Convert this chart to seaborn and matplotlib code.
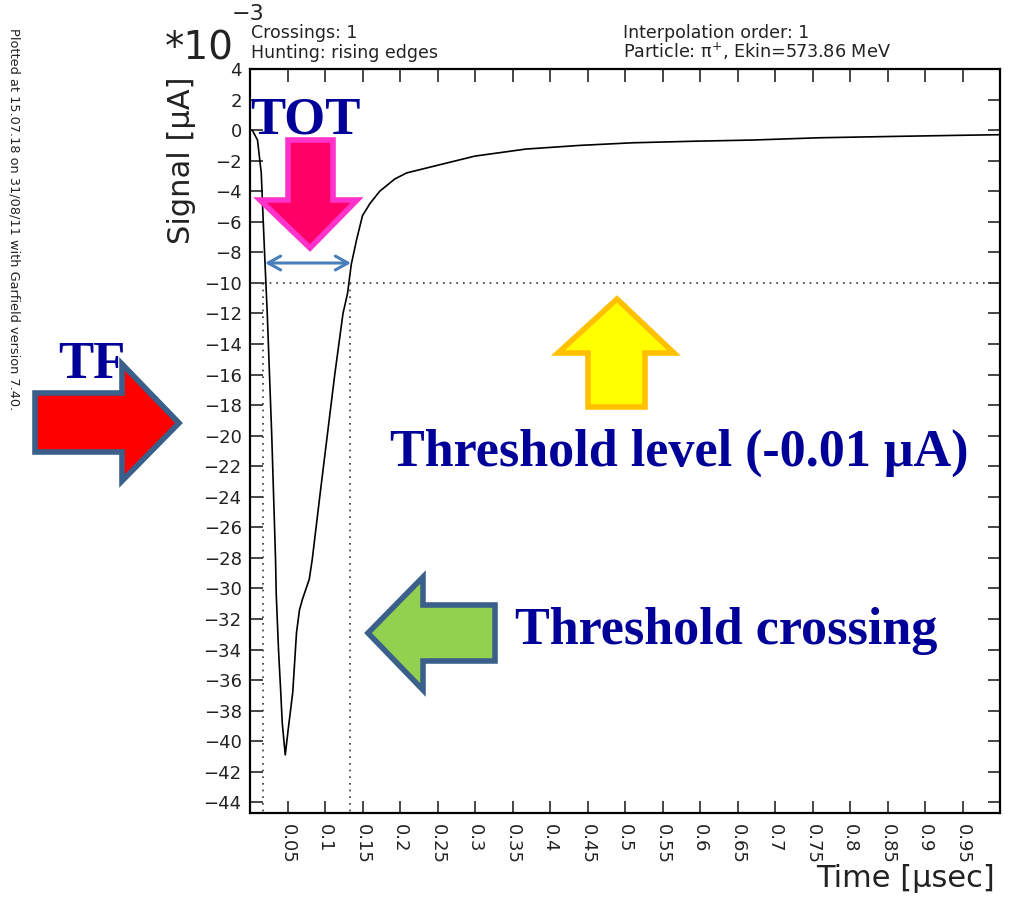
import numpy as np
import pandas as pd
import seaborn as sns
import matplotlib
matplotlib.use("Agg")
import matplotlib.pyplot as plt
from matplotlib.patches import Polygon, FancyArrowPatch

# ---------------- data (signal in units of 1e-3 uA) ----------------
time_us = [0.003, 0.010, 0.015, 0.017, 0.020, 0.023, 0.029, 0.034, 0.035, 0.038,
           0.041, 0.043, 0.047, 0.051, 0.057, 0.062, 0.066, 0.070, 0.079, 0.083,
           0.093, 0.103, 0.113, 0.124, 0.130, 0.135, 0.142, 0.150, 0.160, 0.173,
           0.193, 0.209, 0.261, 0.300, 0.368, 0.440, 0.510, 0.590, 0.670, 0.760,
           0.850, 0.934, 1.000]
signal = [0.0, -0.65, -2.8, -5.2, -8.7, -12.0, -20.0, -28.0, -30.4, -34.0,
          -36.8, -38.8, -40.9, -39.2, -36.8, -32.9, -31.4, -30.7, -29.4, -28.1,
          -24.0, -20.0, -16.0, -12.0, -10.7, -8.8, -7.2, -5.6, -4.8, -4.0,
          -3.2, -2.8, -2.17, -1.7, -1.24, -1.0, -0.83, -0.73, -0.65, -0.5,
          -0.42, -0.35, -0.3]
threshold = -10.0
crossing_times = [0.018, 0.133]

x_ticks = [0.05, 0.1, 0.15, 0.2, 0.25, 0.3, 0.35, 0.4, 0.45, 0.5, 0.55, 0.6,
           0.65, 0.7, 0.75, 0.8, 0.85, 0.9, 0.95]
x_ticklabels = ["0.05", "0.1", "0.15", "0.2", "0.25", "0.3", "0.35", "0.4", "0.45",
                "0.5", "0.55", "0.6", "0.65", "0.7", "0.75", "0.8", "0.85", "0.9", "0.95"]
y_ticks = list(range(-44, 5, 2))

df = pd.DataFrame({"Time": time_us, "Signal": signal})

# ---------------- figure ----------------
sns.set_style("white")
plt.rcParams["font.family"] = ["DejaVu Sans"]
W, H = 1012, 901
fig = plt.figure(figsize=(W / 100, H / 100), dpi=100)
ax = fig.add_axes([250 / W, 1 - 813 / H, 750 / W, 744 / H])

sns.lineplot(data=df, x="Time", y="Signal", ax=ax, color="black", lw=1.2,
             estimator=None, sort=False)

# threshold / crossing dotted lines
ax.plot([crossing_times[0], 1.0], [threshold, threshold], ls=(0, (1, 3)), color="#333333", lw=1.2)
for tc in crossing_times:
    ax.plot([tc, tc], [threshold, -44.7], ls=(0, (1, 3)), color="#333333", lw=1.2)

ax.set_xlim(0, 1.0)
ax.set_ylim(-44.7, 4.0)
ax.set_xticks(x_ticks)
ax.set_xticklabels(x_ticklabels, rotation=-90, fontsize=13, color="#222222")
ax.set_yticks(y_ticks)
ax.set_yticklabels([f"{v}".replace("-", "\u2212") for v in y_ticks], fontsize=13, color="#222222")
ax.tick_params(axis="both", direction="in", length=9, width=1.2, top=True, right=True,
               bottom=True, left=True, pad=6)
ax.tick_params(axis="x", pad=8)
for s in ax.spines.values():
    s.set_color("black")
    s.set_linewidth(1.6)

ax.set_xlabel("Time [\u03bcsec]", fontsize=22, color="#222222")
ax.xaxis.set_label_coords(0.993, -0.068)
ax.xaxis.label.set_ha("right")
ax.xaxis.label.set_va("top")
ax.set_ylabel("Signal [\u03bcA]", fontsize=22, color="#222222")
ax.yaxis.set_label_coords(-0.072, 0.878)


def F(x, y):
    return (x / W, 1 - y / H)


# header texts
fig.text(*F(165, 59), "*10", fontsize=28, color="#222222", ha="left", va="baseline")
fig.text(*F(232, 20), "\u22123", fontsize=16, color="#222222", ha="left", va="baseline")
fig.text(*F(251, 38), "Crossings: 1", fontsize=12.5, color="#222222", va="baseline")
fig.text(*F(251, 58), "Hunting: rising edges", fontsize=12.5, color="#222222", va="baseline")
fig.text(*F(623, 38), "Interpolation order: 1", fontsize=12.5, color="#222222", va="baseline")
fig.text(*F(623, 58), "Particle: \u03c0$^{+}$, Ekin=573.86 MeV", fontsize=12.7, color="#222222", va="baseline")
fig.text(*F(14, 28), "Plotted at 15.07.18 on 31/08/11 with Garfield version 7.40.",
         fontsize=9.3, rotation=-90, ha="center", va="top", color="#222222")


# ---------------- annotation shapes ----------------
def poly(pts, fc, ec, lw):
    p = Polygon([F(x, y) for x, y in pts], closed=True, transform=fig.transFigure,
                facecolor=fc, edgecolor=ec, lw=lw, joinstyle="miter", zorder=5)
    fig.add_artist(p)


# TOT pink down arrow
poly([(288, 140), (333, 140), (333, 200), (357, 200), (310, 248), (260, 200), (288, 200)],
     "#FF0066", "#FF33CC", 4)
# TF red right arrow
poly([(35, 393), (122, 393), (122, 364), (179, 423), (122, 481), (122, 452), (35, 452)],
     "#FF0000", "#3A5F8A", 4)
# threshold level yellow up arrow
poly([(617, 299), (674, 353), (645, 353), (645, 407), (588, 407), (588, 353), (558, 353)],
     "#FFFF00", "#FFC000", 4)
# threshold crossing green left arrow
poly([(368, 633), (423, 577), (423, 605), (495, 605), (495, 661), (423, 661), (423, 690)],
     "#92D050", "#3A5F8A", 4)

# TOT double arrow
arr = FancyArrowPatch(F(265, 263), F(351, 263), transform=fig.transFigure,
                      arrowstyle="<->,head_length=9,head_width=5", color="#4A7EBB",
                      lw=2.2, zorder=6, shrinkA=0, shrinkB=0)
fig.add_artist(arr)

navy = "#000099"
serif = ["Liberation Serif", "DejaVu Serif"]
fig.text(*F(305, 134), "TOT", fontsize=38, fontweight="bold", family=serif, color=navy,
         ha="center", va="baseline", zorder=7)
fig.text(*F(92, 378), "TF", fontsize=38, fontweight="bold", family=serif, color=navy,
         ha="center", va="baseline", zorder=7)
fig.text(*F(390, 466), "Threshold level (-0.01 \u03bcA)", fontsize=37.5, fontweight="bold",
         family=serif, color=navy, ha="left", va="baseline", zorder=7)
fig.text(*F(515, 644), "Threshold crossing", fontsize=37.5, fontweight="bold",
         family=serif, color=navy, ha="left", va="baseline", zorder=7)

fig.savefig("out.png", dpi=100, facecolor="white")
